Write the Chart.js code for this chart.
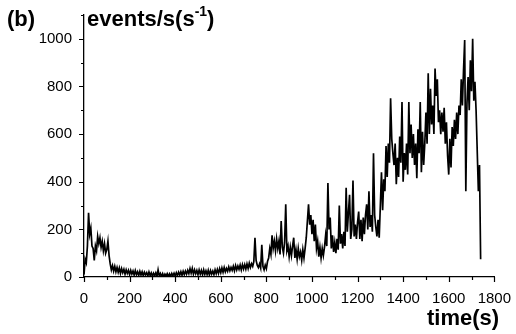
<!DOCTYPE html>
<html>
<head>
<meta charset="utf-8">
<script src="https://cdn.jsdelivr.net/npm/chart.js@4/dist/chart.umd.min.js"></script>
<style>
  body { margin: 0; background: #fff; }
  #wrap { position: relative; width: 516px; height: 334px; }
  .lbl {
    position: absolute;
    font-family: "Liberation Sans", Arial, sans-serif;
    font-weight: bold;
    font-size: 22px;
    line-height: 22px;
    color: #000;
    white-space: nowrap;
  }
  .sup { font-size: 14px; position: relative; top: -10px; }
</style>
</head>
<body>
<div id="wrap">
  <canvas id="rateChart" width="516" height="334"></canvas>
  <div class="lbl" style="left:7px; top:8px;">(b)</div>
  <div class="lbl" style="left:87px; top:8px;">events/s(s<span class="sup">-1</span>)</div>
  <div class="lbl" style="left:427px; top:307px;">time(s)</div>
</div>
<script>
// Rate, one value every 5 s starting at t = 0
const sampleStep = 5;
const rates = [
    10, 75, 60, 130, 270, 180, 205, 130, 120, 70,
    130, 110, 170, 140, 165, 125, 150, 110, 140, 100,
    115, 150, 90, 55, 30, 48, 25, 45, 22, 40,
    20, 38, 15, 35, 18, 32, 12, 30, 15, 28,
    10, 28, 12, 25, 8, 27, 10, 22, 6, 24,
    8, 22, 5, 20, 9, 18, 4, 21, 6, 17,
    3, 16, 6, 18, 2, 30, 5, 15, 2, 14,
    1, 12, 4, 14, 2, 13, 3, 15, 5, 16,
    4, 18, 6, 20, 8, 22, 7, 24, 10, 25,
    12, 28, 14, 35, 16, 36, 12, 30, 14, 28,
    10, 30, 12, 28, 9, 30, 11, 26, 10, 28,
    8, 27, 12, 25, 10, 30, 14, 32, 15, 35,
    18, 38, 20, 40, 22, 36, 24, 42, 26, 40,
    28, 45, 26, 48, 30, 46, 32, 50, 30, 52,
    34, 52, 33, 55, 36, 58, 40, 56, 45, 65,
    165, 70, 50, 40, 55, 38, 135, 45, 30, 50,
    35, 65, 80, 120, 95, 175, 120, 150, 110, 160,
    120, 150, 95, 235, 125, 100, 145, 305, 110, 130,
    85, 125, 90, 130, 165, 80, 115, 75, 120, 85,
    105, 70, 115, 80, 120, 165, 235, 305, 220, 260,
    180, 240, 150, 220, 120, 150, 85, 125, 80, 120,
    90, 125, 175, 130, 395, 200, 250, 120, 175, 105,
    145, 100, 160, 115, 300, 140, 180, 120, 190, 130,
    375, 190, 270, 345, 160, 200, 405, 170, 220, 160,
    230, 275, 160, 240, 150, 250, 180, 260, 305, 200,
    360, 210, 260, 190, 520, 260, 210, 170, 240, 165,
    300, 440, 280, 410, 360, 550, 420, 560, 480, 750,
    580, 520, 470, 560, 390, 500, 420, 590, 480, 735,
    400, 520, 450, 560, 430, 735, 520, 640, 500, 600,
    470, 560, 415, 620, 520, 735, 440, 610, 470, 560,
    690, 560, 855, 600, 790, 640, 720, 600, 875, 760,
    830, 650, 700, 600, 690, 610, 710, 560, 650, 510,
    430, 580, 460, 630, 550, 660, 580, 690, 600, 720,
    680, 830, 720, 870, 995, 360, 730, 840, 700, 910,
    780, 1000, 740, 820, 700, 530, 360, 470, 75
];
const times = rates.map((r, i) => i * sampleStep);

const xTicks = [0, 200, 400, 600, 800, 1000, 1200, 1400, 1600, 1800];
const yTicks = [0, 200, 400, 600, 800, 1000];

const fontFamily = '"Liberation Sans", Arial, sans-serif';

// tick marks outside the axes, long on labelled values, short on the others
const tickMarks = {
    id: 'tickMarks',
    afterDraw(chart) {
        const ctx = chart.ctx;
        const xs = chart.scales.x;
        const ys = chart.scales.y;
        ctx.save();
        ctx.strokeStyle = '#000';
        ctx.lineWidth = 1.2;
        ctx.beginPath();
        xs.ticks.forEach(t => {
            const px = Math.round(xs.getPixelForValue(t.value)) + 0.5;
            const len = xTicks.includes(t.value) ? 5 : 3;
            ctx.moveTo(px, xs.top);
            ctx.lineTo(px, xs.top + len);
        });
        ys.ticks.forEach(t => {
            const py = Math.round(ys.getPixelForValue(t.value)) + 0.5;
            const len = yTicks.includes(t.value) ? 5 : 3;
            ctx.moveTo(ys.right, py);
            ctx.lineTo(ys.right - len, py);
        });
        ctx.stroke();
        ctx.restore();
    }
};

const ctx = document.getElementById('rateChart').getContext('2d');
const rateChart = new Chart(ctx, {
    type: 'line',
    data: {
        datasets: [{
            data: times.map((t, i) => ({ x: t, y: rates[i] })),
            borderColor: '#000',
            borderWidth: 1.7,
            pointRadius: 0,
            tension: 0,
            fill: false
        }]
    },
    options: {
        responsive: false,
        animation: false,
        layout: { padding: { left: 0, right: 21, top: 15, bottom: 0 } },
        plugins: { legend: { display: false }, tooltip: { enabled: false } },
        scales: {
            x: {
                type: 'linear',
                min: 0,
                max: 1800,
                afterFit: s => { s.height = 57; },
                border: { color: '#000', width: 1.3 },
                grid: { display: false },
                ticks: {
                    stepSize: 100,
                    autoSkip: false,
                    maxRotation: 0,
                    padding: 5,
                    color: '#000',
                    font: { family: fontFamily, size: 15 },
                    callback: v => xTicks.includes(v) ? String(v) : ''
                }
            },
            y: {
                min: 0,
                max: 1100,
                afterFit: s => { s.width = 84; },
                border: { color: '#000', width: 1.3 },
                // invisible tick length gives the label gap without padding the top
                grid: { drawOnChartArea: false, drawTicks: true, tickLength: 12, tickColor: 'rgba(0,0,0,0)' },
                ticks: {
                    stepSize: 100,
                    autoSkip: false,
                    padding: 0,
                    color: '#000',
                    font: { family: fontFamily, size: 15 },
                    callback: v => yTicks.includes(v) ? String(v) : ''
                }
            }
        }
    },
    plugins: [tickMarks]
});
</script>
</body>
</html>
